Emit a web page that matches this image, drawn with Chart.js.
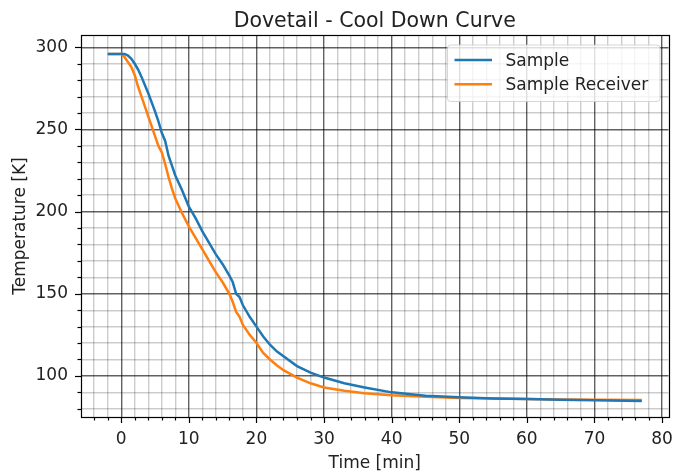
<!DOCTYPE html>
<html>
<head>
<meta charset="utf-8">
<script src="https://cdn.jsdelivr.net/npm/chart.js@4"></script>
<style>
  html, body { margin: 0; padding: 0; background: #fff; }
  #wrap { width: 676px; height: 475px; }
</style>
</head>
<body>
<div id="wrap"><canvas id="chart" width="676" height="475"></canvas></div>
<script>
// Dados (tempo em minutos, temperatura em K)
const titleText = 'Dovetail - Cool Down Curve';
const timeMin = [-2, 0, 0.5, 1, 1.5, 2, 2.5, 3, 4, 5, 5.5, 6, 6.5, 7, 7.5, 8, 9, 10, 11, 12, 13, 14, 15, 16, 16.5, 17, 17.5, 18, 19, 20, 21, 22, 23, 24, 26, 28, 30, 33, 36, 40, 45, 50, 55, 60, 65, 70, 77];
const sampleK = [296, 296, 296, 295, 293, 290, 286.5, 282, 272, 261, 255, 248, 243, 234, 228, 222, 213, 203, 196, 188, 181, 174, 168, 161, 157, 150, 148, 143, 136, 130, 124, 119, 115, 112, 106, 102, 99, 95.5, 93, 90, 88, 87, 86.3, 86, 85.5, 85.2, 84.8];
const receiverK = [296, 296, 294, 291, 288, 283, 276, 270, 258, 246, 240, 236, 229, 221, 214, 208, 199, 191, 184, 177, 170, 163, 157, 150, 145, 139, 136, 131, 125, 120, 114, 110, 106.5, 103.5, 99, 95.5, 93, 91, 89.5, 88.3, 87.3, 86.5, 86.2, 86, 85.7, 85.5, 85.3];
const seriesNames = ['Sample', 'Sample Receiver'];
const seriesColors = ['#1f77b4', '#ff7f0e'];
const xMajorTicks = [0, 10, 20, 30, 40, 50, 60, 70, 80];
const yMajorTicks = [100, 150, 200, 250, 300];

const FONT = 'DejaVu Sans';
const TEXT = '#222';

function toPoints(xs, ys) {
    return xs.map((x, i) => ({ x: x, y: ys[i] }));
}

// Ticks menores/maiores, eixos, título e legenda desenhados à mão
const decorPlugin = {
    id: 'decor',
    afterDatasetsDraw(chart) {
        const ctx = chart.ctx;
        const a = chart.chartArea;
        const xs = chart.scales.x;
        const ys = chart.scales.y;
        ctx.save();

        // marcas dos ticks
        ctx.strokeStyle = '#000';
        ctx.lineWidth = 1.2;
        xs.ticks.forEach(t => {
            const px = Math.round(xs.getPixelForValue(t.value)) + 0.5;
            const len = xMajorTicks.includes(t.value) ? 6 : 3.5;
            ctx.beginPath();
            ctx.moveTo(px, a.bottom);
            ctx.lineTo(px, a.bottom + len);
            ctx.stroke();
        });
        ys.ticks.forEach(t => {
            const py = Math.round(ys.getPixelForValue(t.value)) + 0.5;
            const len = yMajorTicks.includes(t.value) ? 6 : 3.5;
            ctx.beginPath();
            ctx.moveTo(a.left, py);
            ctx.lineTo(a.left - len, py);
            ctx.stroke();
        });

        // bordas do gráfico
        ctx.lineWidth = 1.2;
        ctx.strokeRect(Math.round(a.left) + 0.5, Math.round(a.top) + 0.5,
            Math.round(a.right - a.left), Math.round(a.bottom - a.top));

        // título
        ctx.fillStyle = TEXT;
        ctx.font = '20.5px "' + FONT + '"';
        ctx.textAlign = 'center';
        ctx.textBaseline = 'alphabetic';
        ctx.fillText(titleText, (a.left + a.right) / 2, 26.5);

        // legenda
        const bx = a.right - 221, by = a.top + 10, bw = 212.5, bh = 56.5;
        ctx.beginPath();
        ctx.roundRect(bx, by, bw, bh, 3);
        ctx.fillStyle = 'rgba(255,255,255,0.8)';
        ctx.fill();
        ctx.strokeStyle = 'rgba(204,204,204,0.8)';
        ctx.lineWidth = 1;
        ctx.stroke();
        ctx.font = '17px "' + FONT + '"';
        ctx.textAlign = 'left';
        chart.data.datasets.forEach((ds, i) => {
            const ly = by + 15 + i * 24.3;
            ctx.strokeStyle = ds.borderColor;
            ctx.lineWidth = 2.5;
            ctx.beginPath();
            ctx.moveTo(bx + 7, ly);
            ctx.lineTo(bx + 44.5, ly);
            ctx.stroke();
            ctx.fillStyle = TEXT;
            ctx.fillText(ds.label, bx + 58, ly + 6);
        });
        ctx.restore();
    }
};

const ctx = document.getElementById('chart').getContext('2d');
window.coolChart = new Chart(ctx, {
    type: 'scatter',
    data: {
        datasets: [
            {
                label: seriesNames[0],
                data: toPoints(timeMin, sampleK),
                borderColor: seriesColors[0],
                backgroundColor: seriesColors[0],
                borderWidth: 2.5,
                showLine: true,
                pointRadius: 0,
                tension: 0
            },
            {
                label: seriesNames[1],
                data: toPoints(timeMin, receiverK),
                borderColor: seriesColors[1],
                backgroundColor: seriesColors[1],
                borderWidth: 2.5,
                showLine: true,
                pointRadius: 0,
                tension: 0
            }
        ]
    },
    options: {
        responsive: false,
        animation: false,
        layout: { padding: { top: 35, right: 7.5, left: 0, bottom: 0 } },
        plugins: {
            legend: { display: false },
            tooltip: { enabled: false }
        },
        scales: {
            x: {
                type: 'linear',
                min: -5.95,
                max: 80.95,
                afterFit: s => { s.height = 58; s.paddingLeft = 0; s.paddingRight = 0; },
                border: { display: false },
                grid: {
                    drawTicks: false,
                    color: c => xMajorTicks.includes(c.tick.value) ? 'rgba(0,0,0,0.62)' : 'rgba(0,0,0,0.2)',
                    lineWidth: 1.4
                },
                ticks: {
                    stepSize: 2,
                    includeBounds: false,
                    autoSkip: false,
                    maxRotation: 0,
                    padding: 12,
                    color: TEXT,
                    font: { family: FONT, size: 17 },
                    callback: v => xMajorTicks.includes(v) ? String(v) : ''
                },
                title: {
                    display: true,
                    text: 'Time [min]',
                    color: TEXT,
                    font: { family: FONT, size: 17 },
                    padding: { top: 0, bottom: 1 }
                }
            },
            y: {
                min: 75,
                max: 307.5,
                afterFit: s => { s.width = 81; s.paddingTop = 0; s.paddingBottom = 0; },
                border: { display: false },
                grid: {
                    drawTicks: false,
                    color: c => yMajorTicks.includes(c.tick.value) ? 'rgba(0,0,0,0.62)' : 'rgba(0,0,0,0.2)',
                    lineWidth: 1.4
                },
                ticks: {
                    stepSize: 10,
                    includeBounds: false,
                    autoSkip: false,
                    padding: 13,
                    color: TEXT,
                    font: { family: FONT, size: 17 },
                    callback: v => yMajorTicks.includes(v) ? String(v) : ''
                },
                title: {
                    display: true,
                    text: 'Temperature [K]',
                    color: TEXT,
                    font: { family: FONT, size: 17 },
                    padding: { top: 10, bottom: 0 }
                }
            }
        }
    },
    plugins: [decorPlugin]
});
</script>
</body>
</html>
